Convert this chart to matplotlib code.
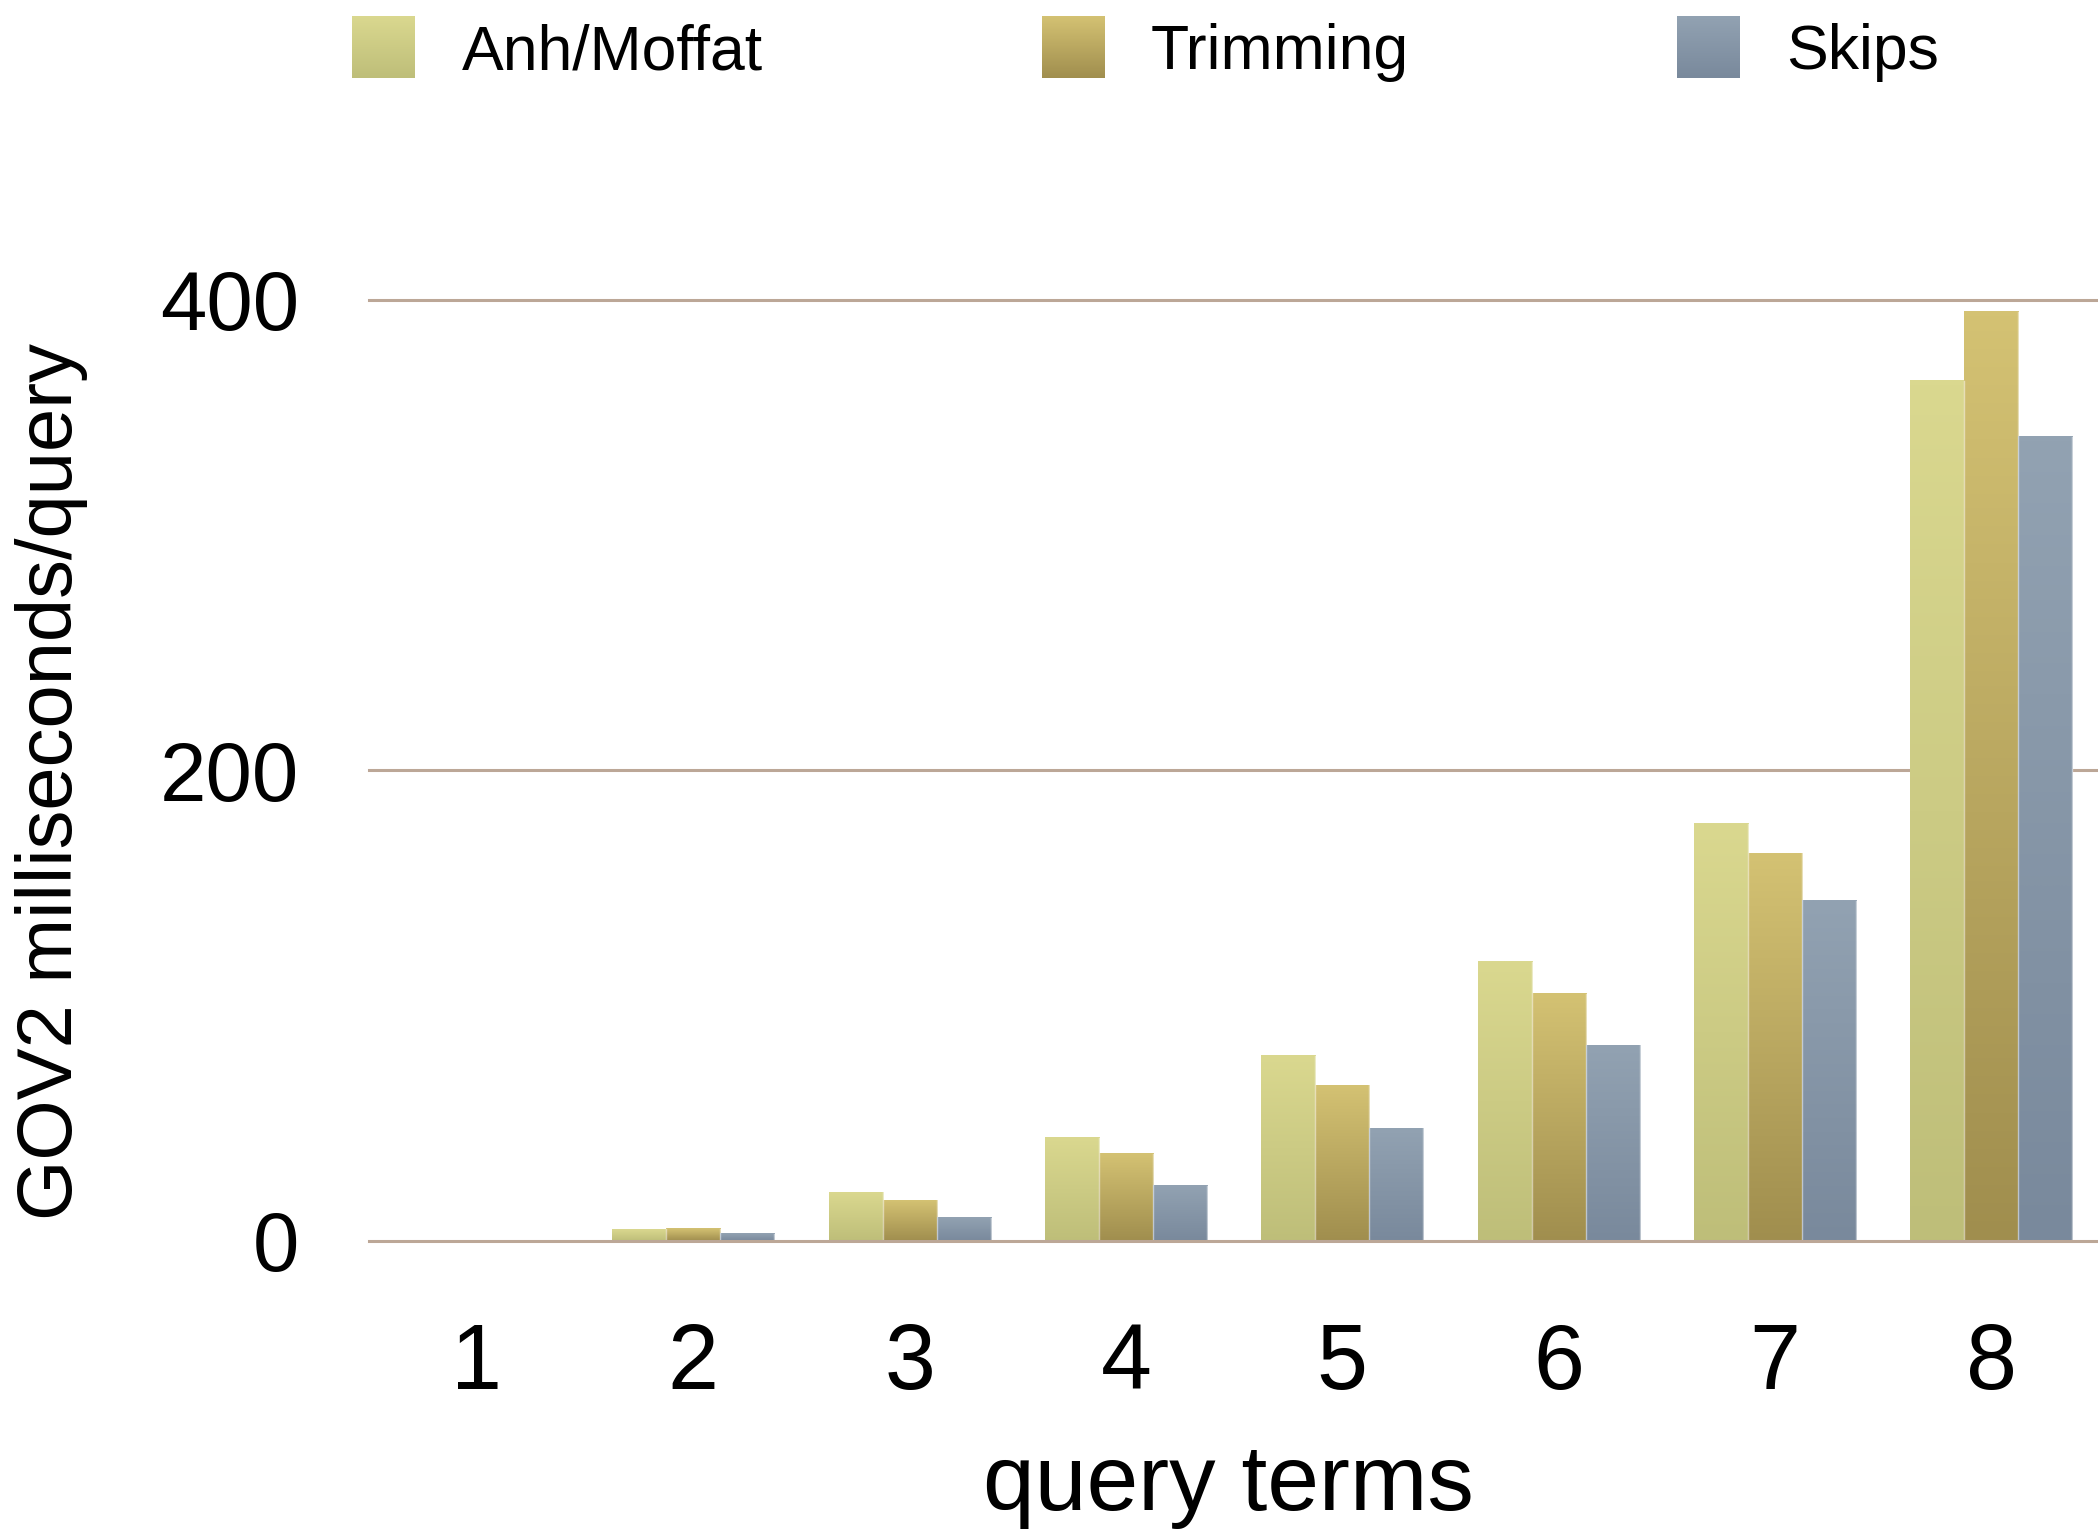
import numpy as np
import matplotlib
matplotlib.use("Agg")
import matplotlib.pyplot as plt
from matplotlib.colors import LinearSegmentedColormap

plt.rcParams['font.family'] = ['Liberation Sans', 'DejaVu Sans']

# Data: GOV2 query time by number of query terms
query_terms = ["1", "2", "3", "4", "5", "6", "7", "8"]
series_names = ["Anh/Moffat", "Trimming", "Skips"]
anh_moffat = [0.3, 5.1, 20.8, 43.8, 78.8, 118.6, 177.3, 365.6]
trimming = [0.3, 5.2, 17.4, 37.0, 66.3, 105.0, 164.9, 394.9]
skips = [0.2, 3.0, 9.8, 23.4, 48.0, 83.3, 144.7, 341.8]
y_ticks = [0, 200, 400]

# (top colour, bottom colour) gradients for each series
gradients = [("#dad88f", "#bebe79"),
             ("#d4c273", "#a08e4e"),
             ("#92a2b2", "#79899c")]

fig = plt.figure(figsize=(20.98, 15.33), dpi=100)
ax = fig.add_axes([0.1758, 0.19048, 0.8249, 0.61383])

x = np.arange(1, len(query_terms) + 1)
width = 0.25
offsets = [-width, 0.0, width]
all_series = [anh_moffat, trimming, skips]

grad = np.linspace(0, 1, 256).reshape(-1, 1)
for vals, off, (top_c, bot_c) in zip(all_series, offsets, gradients):
    cmap = LinearSegmentedColormap.from_list("g", [bot_c, top_c])
    bars = ax.bar(x + off, vals, width, color="none", edgecolor="none", zorder=2)
    for b in bars:
        x0, w, h = b.get_x(), b.get_width(), b.get_height()
        if h <= 0:
            continue
        ax.imshow(grad, cmap=cmap, origin="lower", aspect="auto",
                  extent=(x0, x0 + w, 0, h), zorder=2, interpolation="bilinear")
        # faint highlight on the right edge of each bar
        ax.plot([x0 + w, x0 + w], [0, h], color="white", alpha=0.5, lw=1.0, zorder=3)

ax.set_xlim(0.5, 8.5)
ax.set_ylim(0, 400)

# horizontal rules
for t in y_ticks:
    ax.axhline(t, color="#bca797", lw=2.2, zorder=1 if t > 0 else 4, clip_on=False)
    ax.axhline(t, color="#e9ddd6", lw=1.0, zorder=0, clip_on=False)

for s in ax.spines.values():
    s.set_visible(False)

ax.set_yticks(y_ticks)
ax.set_yticklabels([str(t) for t in y_ticks], fontsize=60)
ax.set_xticks(x)
ax.set_xticklabels(query_terms, fontsize=66)
ax.tick_params(axis="both", length=0)
ax.tick_params(axis="y", pad=50)
ax.tick_params(axis="x", pad=58)

fig.text(1228 / 2098, 1 - 1486 / 1533, "query terms", fontsize=67,
         ha="center", va="center")
fig.text(52 / 2098, 1 - 781 / 1533, "GOV2 milliseconds/query", fontsize=56,
         rotation=90, ha="center", va="center")

# legend across the top
patch_x = [352, 1042, 1677]
label_x = [462, 1151, 1786]
fw, fh = 2098.0, 1533.0
for name, px, lx, (top_c, bot_c) in zip(series_names, patch_x, label_x, gradients):
    lax = fig.add_axes([px / fw, 1 - 78 / fh, 63 / fw, 62 / fh])
    cmap = LinearSegmentedColormap.from_list("g", [bot_c, top_c])
    lax.imshow(grad, cmap=cmap, origin="lower", aspect="auto", extent=(0, 1, 0, 1))
    lax.set_axis_off()
    fig.text(lx / fw, 1 - 53 / fh, name, fontsize=45, ha="left", va="center")

fig.savefig("out.png", dpi=100, facecolor="white")
